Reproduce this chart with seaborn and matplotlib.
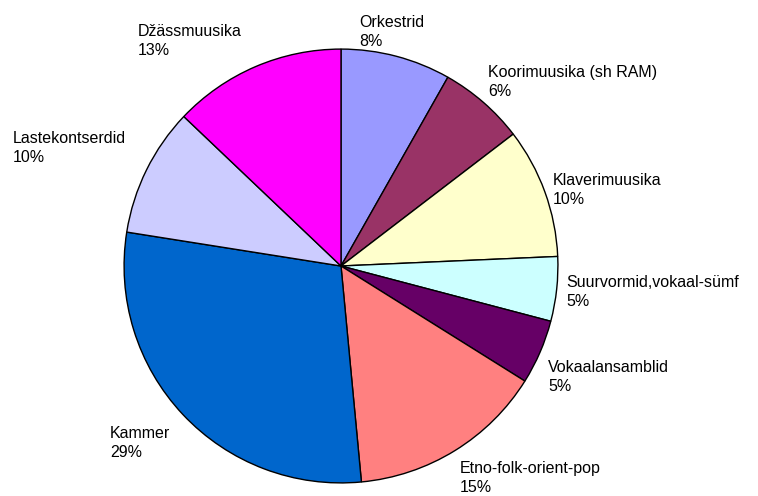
import matplotlib
matplotlib.use("Agg")
import matplotlib.pyplot as plt
import seaborn as sns

# Data
categories = ["Orkestrid", "Koorimuusika (sh RAM)", "Klaverimuusika",
              "Suurvormid,vokaal-sümf", "Vokaalansamblid", "Etno-folk-orient-pop",
              "Kammer", "Lastekontserdid", "Džässmuusika"]
values = [8.2, 6.4, 9.7, 4.8, 4.8, 14.6, 29.0, 9.6, 12.9]
colors = ["#9999FF", "#993366", "#FFFFCC", "#CCFFFF", "#660066",
          "#FF8080", "#0066CC", "#CCCCFF", "#FF00FF"]

# Label anchor positions (pixels from top-left: left x, baseline of first line)
label_pos = [(359, 27), (488, 77), (553, 185), (566, 287), (548, 372),
             (460, 473), (110, 438), (13, 143), (138, 36)]

sns.set_theme(style="white")
plt.rcParams["font.family"] = ["Liberation Sans", "DejaVu Sans"]

W, H, DPI = 758, 496, 100
fig = plt.figure(figsize=(W / DPI, H / DPI), dpi=DPI)
fig.patch.set_facecolor("white")

cx, cy, r = 341, 266, 218
ax = fig.add_axes([(cx - r) / W, (H - cy - r) / H, 2 * r / W, 2 * r / H])
ax.pie(values, colors=colors, startangle=90, counterclock=False, radius=1,
       wedgeprops=dict(edgecolor="black", linewidth=1.0))
ax.set_xlim(-1.005, 1.005)
ax.set_ylim(-1.005, 1.005)
ax.set_aspect("equal")
ax.axis("off")

fs = 11.5
for name, v, (x, y) in zip(categories, values, label_pos):
    fig.text(x / W, 1 - y / H, name, fontsize=fs, color="black",
             ha="left", va="baseline")
    fig.text(x / W, 1 - (y + 19) / H, f"{round(v)}%", fontsize=fs, color="black",
             ha="left", va="baseline")

fig.savefig("out.png", dpi=DPI, facecolor="white")
